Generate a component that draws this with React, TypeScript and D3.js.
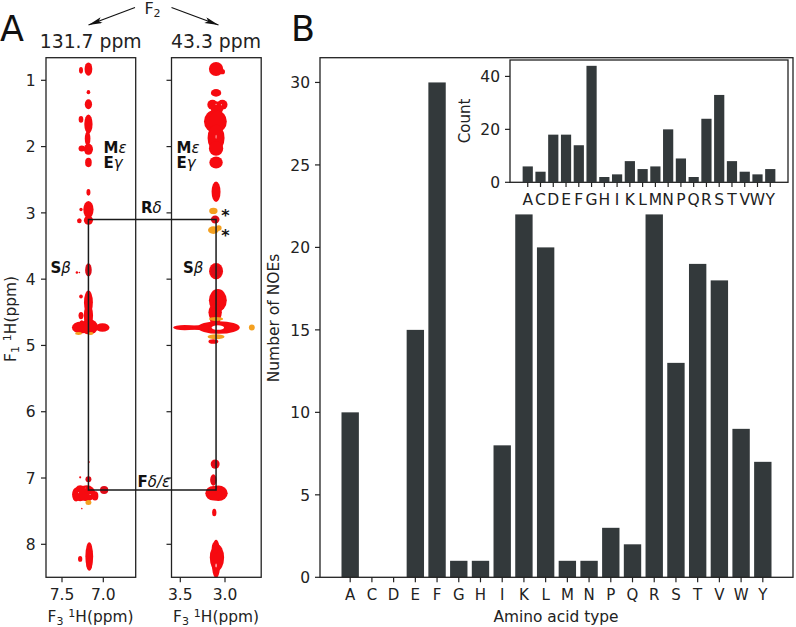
import React from "react";
import * as d3 from "d3";

// ---------- Panel B data ----------
const residues = ["A","C","D","E","F","G","H","I","K","L","M","N","P","Q","R","S","T","V","W","Y"];
const noeCounts = [10,0,0,15,30,1,1,8,22,20,1,1,3,2,22,13,19,18,9,7];
const insetCounts = [6,4,18,18,14,44,2,3,8,5,6,20,9,2,24,33,8,4,3,5];
const noeTicks = [0,5,10,15,20,25,30];
const insetTicks = [0,20,40];
const f1Ticks = [1,2,3,4,5,6,7,8];

// ---------- Panel A peaks: [F3 ppm, F1 ppm, half width F3, half width F1] ----------
type Peak = [number, number, number, number];
const aromaticRed: Peak[] = [
  [7.18,0.83,.047,.1],[7.27,0.85,.024,.05],[7.18,1.18,.022,.032],[7.18,1.36,.044,.075],
  [7.27,1.59,.028,.05],[7.18,1.66,.05,.145],[7.19,1.88,.034,.11],[7.18,2.04,.055,.085],
  [7.26,2.03,.04,.045],[7.18,2.24,.04,.07],[7.18,2.69,.024,.05],[7.18,2.95,.062,.13],
  [7.18,3.11,.055,.07],[7.27,2.95,.02,.026],[7.29,3.12,.028,.038],[7.32,3.9,.015,.02],
  [7.27,4.26,.022,.03],[7.18,4.35,.054,.18],[7.18,4.55,.056,.18],[7.27,4.55,.03,.055],
  [7.26,4.66,.026,.04],
  [7.27,4.73,.11,.09],[7.17,4.72,.105,.115],[7.01,4.73,.085,.065],
  [7.33,7.25,.048,.105],[7.28,7.23,.078,.12],[7.2,7.23,.105,.12],[7.1,7.27,.04,.07],
  [7.17,8.18,.047,.21],[7.17,8.3,.036,.1],[7.28,8.22,.026,.045],[7.175,6.76,.011,.016],
  [7.28,6.99,.013,.016],[7.26,7.46,.009,.013],
];
const aromaticDark: Peak[] = [
  [7.18,3.86,.04,.1],[7.18,7.02,.036,.045],[6.99,7.18,.05,.06],[7.29,3.9,.01,.012],
];
const aromaticOrange: Peak[] = [[7.18,7.37,.036,.038],[7.3,4.82,.04,.022],[7.15,4.82,.03,.022]];
const aromaticWhite: Peak[] = [[7.3,7.22,.004,.008],[7.16,7.25,.005,.008],[7.22,7.15,.004,.006]];

const aliphaticRed: Peak[] = [
  [3.1,0.83,.08,.105],[3.03,0.87,.03,.04],[3.1,1.19,.058,.058],[3.14,1.37,.058,.075],
  [3.03,1.37,.058,.075],[3.09,1.42,.07,.1],[3.12,1.62,.115,.17],[3.08,1.62,.1,.16],[3.1,1.87,.095,.2],
  [3.1,2.03,.08,.11],[3.1,2.24,.075,.09],[3.1,2.68,.05,.155],[3.08,4.32,.1,.17],
  [3.07,4.37,.055,.12],[3.11,4.5,.075,.13],[3.11,4.58,.06,.15],
  [3.075,7.23,.105,.118],[3.13,7.23,.09,.11],[3.12,7.52,.024,.058],
  [3.1,8.22,.052,.29],[3.09,8.2,.08,.2],[3.11,8.05,.038,.09],
  [3.1,3.88,.078,.125],
  [3.07,4.73,.235,.095],[3.29,4.73,.2,.036],[3.45,4.73,.13,.04],[3.02,4.73,.17,.045],[3.13,4.94,.055,.035],
  [3.11,6.79,.05,.07],[3.13,7.03,.036,.085],
];
const aliphaticOrange: Peak[] = [
  [3.13,2.97,.047,.047],[3.13,3.26,.06,.058],[3.07,3.23,.032,.042],
  [2.7,4.73,.033,.045],[3.1,4.6,.08,.03],[3.1,4.87,.095,.038],
];
const aliphaticDark: Peak[] = [[3.11,3.1,.048,.06],[3.1,3.88,.06,.09],[3.11,6.79,.04,.05],[3.13,7.03,.028,.065]];
const aliphaticWhite: Peak[] = [[3.08,4.73,.07,.035],[3.1,1.36,.006,.008],[3.04,1.37,.006,.008],[3.1,8.32,.006,.03],[3.1,1.85,.004,.03]];

const RED = "#f60a10";
const DARK = "#de0c18";
const ORANGE = "#f4a020";
const BAR = "#33393b";
const INK = "#222";
const FONT = "'DejaVu Sans', sans-serif";

const top = 57.7;
const bottom = 577.3;
const f1 = d3.scaleLinear().domain([1, 8]).range([80.3, 544.3]);
const xAro = d3.scaleLinear().domain([7.5, 7.0]).range([62, 103.3]);
const xAli = d3.scaleLinear().domain([3.5, 3.0]).range([180.3, 225]);
const xMain = d3.scaleLinear().domain([-1.39, 20.39]).range([320, 793]);
const yMain = d3.scaleLinear().domain([0, 31.5]).range([bottom, top]);
const xInset = d3.scaleLinear().domain([-1.39, 20.39]).range([510, 788]);
const yInset = d3.scaleLinear().domain([0, 46.2]).range([182.3, 60]);

function Peaks({ data, x, fill }: { data: Peak[]; x: d3.ScaleLinear<number, number>; fill: string }) {
  return (
    <g fill={fill}>
      {data.map((p, i) => (
        <ellipse key={i} cx={x(p[0])} cy={f1(p[1])}
          rx={Math.abs(x(p[0] + p[2]) - x(p[0]))} ry={Math.abs(f1(p[1] + p[3]) - f1(p[1]))} />
      ))}
    </g>
  );
}

function Label({ x, y, b, g }: { x: number; y: number; b: string; g: string }) {
  return (
    <text x={x} y={y} fontSize={15} fill="#111">
      <tspan fontWeight="bold">{b}</tspan>
      <tspan fontStyle="italic">{g}</tspan>
    </text>
  );
}

function Nmr({ x, left, tickLabels, xTicks, red, dark, orange, white, id }: any) {
  const mid = left + 44.5;
  return (
    <g>
      <clipPath id={id}><rect x={left} y={top} width={89.7} height={bottom - top} /></clipPath>
      <g clipPath={`url(#${id})`}>
        <Peaks data={red} x={x} fill={RED} />
        <Peaks data={orange} x={x} fill={ORANGE} />
        <Peaks data={dark} x={x} fill={DARK} />
        <Peaks data={white} x={x} fill="#fff" />
      </g>
      <rect x={left} y={top} width={89.7} height={bottom - top} fill="none" stroke={INK} strokeWidth={1.3} />
      {f1Ticks.map((t) => (
        <g key={t}>
          <line x1={left - 5} x2={left} y1={f1(t)} y2={f1(t)} stroke={INK} strokeWidth={1.2} />
          {tickLabels && <text x={left - 10.5} y={f1(t) + 5.7} textAnchor="end" fontSize={15.5} fill="#222">{t}</text>}
        </g>
      ))}
      {xTicks.map((t: number) => (
        <g key={t}>
          <line x1={x(t)} x2={x(t)} y1={bottom} y2={bottom + 5} stroke={INK} strokeWidth={1.2} />
          <text x={x(t)} y={bottom + 23} textAnchor="middle" fontSize={15.5} fill="#222">{t.toFixed(1)}</text>
        </g>
      ))}
      <text x={mid} y={622} textAnchor="middle" fontSize={15.4} fill="#222">
        F<tspan dy={3} fontSize={11}>3</tspan><tspan dy={-3}> </tspan>
        <tspan dy={-5} fontSize={11}>1</tspan><tspan dy={5}>H(ppm)</tspan>
      </text>
    </g>
  );
}

function Bars({ x, y, values }: any) {
  return (
    <g fill={BAR}>
      {values.map((v: number, i: number) => (
        v > 0 ? <rect key={residues[i]} x={x(i - 0.4)} y={y(v)} width={x(i + 0.4) - x(i - 0.4)} height={y(0) - y(v)} /> : null
      ))}
    </g>
  );
}

export default function App() {
  const cxAro = xAro(7.18);
  const cxAli = xAli(3.1);
  const rTop = f1(3.1);
  const rBot = f1(7.18);
  return (
    <svg width={796} height={627} viewBox="0 0 796 627"
      style={{ position: "absolute", left: 0, top: 0, background: "#fff" }} fontFamily={FONT}>
      <defs>
        <marker id="ah" markerWidth="16" markerHeight="8" refX="14" refY="3" orient="auto" markerUnits="userSpaceOnUse">
          <path d="M0,0 L14,3 L0,6 L3,3 Z" fill="#111" />
        </marker>
      </defs>

      {/* Panel A */}
      <text x={0} y={41} fontSize={35} fill="#111">A</text>
      <text x={152.5} y={14} textAnchor="middle" fontSize={16} fill="#222">F<tspan dy={3} fontSize={11}>2</tspan></text>
      <line x1={135} y1={7.5} x2={88.5} y2={25} stroke="#111" strokeWidth={1.2} markerEnd="url(#ah)" />
      <line x1={171.5} y1={7.5} x2={218.5} y2={25} stroke="#111" strokeWidth={1.2} markerEnd="url(#ah)" />
      <text x={90.7} y={48} textAnchor="middle" fontSize={18.8} fill="#222">131.7 ppm</text>
      <text x={216} y={48} textAnchor="middle" fontSize={18.8} fill="#222">43.3 ppm</text>

      <Nmr id="c1" x={xAro} left={46} tickLabels xTicks={[7.5, 7.0]}
        red={aromaticRed} dark={aromaticDark} orange={aromaticOrange} white={aromaticWhite} />
      <Nmr id="c2" x={xAli} left={171.5} xTicks={[3.5, 3.0]}
        red={aliphaticRed} dark={aliphaticDark} orange={aliphaticOrange} white={aliphaticWhite} />

      <path d={`M${cxAro},${rBot} V${rTop} H${cxAli} V${rBot} Z`} fill="none" stroke="#1a1a1a" strokeWidth={1.5} />

      <Label x={103.5} y={152.5} b="M" g="ε" />
      <Label x={103.5} y={168} b="E" g="γ" />
      <Label x={176.5} y={152.5} b="M" g="ε" />
      <Label x={176.5} y={168} b="E" g="γ" />
      <Label x={141} y={212.5} b="R" g="δ" />
      <Label x={50.5} y={272.5} b="S" g="β" />
      <Label x={183} y={272.5} b="S" g="β" />
      <Label x={137.5} y={487} b="F" g="δ/ε" />
      <text x={225.5} y={221} textAnchor="middle" fontSize={16} fontWeight="bold" fill="#111">*</text>
      <text x={225.5} y={240.5} textAnchor="middle" fontSize={16} fontWeight="bold" fill="#111">*</text>

      <text transform="translate(16,319) rotate(-90)" textAnchor="middle" fontSize={15.4} fill="#222">
        F<tspan dy={3} fontSize={11}>1</tspan><tspan dy={-3}> </tspan>
        <tspan dy={-5} fontSize={11}>1</tspan><tspan dy={5}>H(ppm)</tspan>
      </text>

      {/* Panel B */}
      <text x={291} y={41} fontSize={35} fill="#111">B</text>
      <Bars x={xMain} y={yMain} values={noeCounts} />
      <rect x={320} y={top} width={473} height={bottom - top} fill="none" stroke={INK} strokeWidth={1.3} />
      {noeTicks.map((t) => (
        <g key={t}>
          <line x1={315} x2={320} y1={yMain(t)} y2={yMain(t)} stroke={INK} strokeWidth={1.2} />
          <text x={310} y={yMain(t) + 5.7} textAnchor="end" fontSize={15.5} fill="#222">{t}</text>
        </g>
      ))}
      {residues.map((r, i) => (
        <g key={r}>
          <line x1={xMain(i)} x2={xMain(i)} y1={bottom} y2={bottom + 5} stroke={INK} strokeWidth={1.2} />
          <text x={xMain(i)} y={bottom + 23} textAnchor="middle" fontSize={15} fill="#222">{r}</text>
        </g>
      ))}
      <text transform="translate(279,318) rotate(-90)" textAnchor="middle" fontSize={15.5} fill="#222">Number of NOEs</text>
      <text x={556} y={622} textAnchor="middle" fontSize={15.4} fill="#222">Amino acid type</text>

      {/* Inset */}
      <rect x={510} y={60} width={278} height={122.3} fill="#fff" stroke={INK} strokeWidth={1.3} />
      <Bars x={xInset} y={yInset} values={insetCounts} />
      {insetTicks.map((t) => (
        <g key={t}>
          <line x1={505} x2={510} y1={yInset(t)} y2={yInset(t)} stroke={INK} strokeWidth={1.2} />
          <text x={500} y={yInset(t) + 5.5} textAnchor="end" fontSize={15.5} fill="#222">{t}</text>
        </g>
      ))}
      {residues.map((r, i) => (
        <g key={r}>
          <line x1={xInset(i)} x2={xInset(i)} y1={182.3} y2={187} stroke={INK} strokeWidth={1.2} />
          <text x={xInset(i)} y={205} textAnchor="middle" fontSize={15.5} fill="#222">{r}</text>
        </g>
      ))}
      <text transform="translate(470,121) rotate(-90)" textAnchor="middle" fontSize={15} fill="#222">Count</text>
    </svg>
  );
}
